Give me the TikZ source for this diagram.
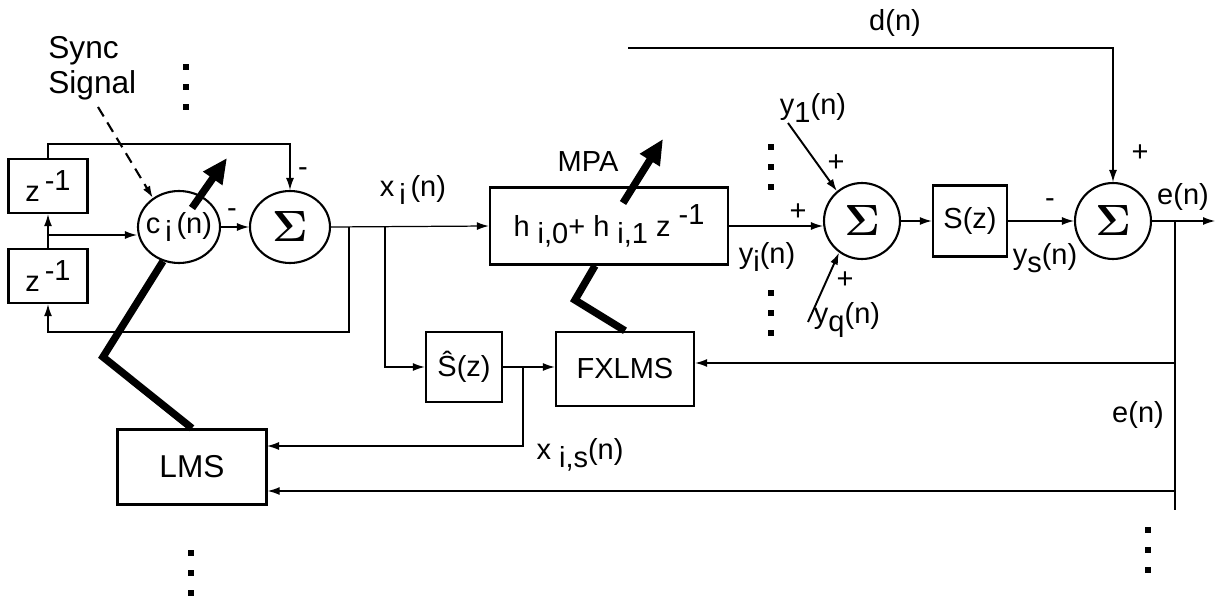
\documentclass[tikz,border=0pt]{standalone}
\usepackage[no-math]{fontspec}
\setmainfont{Liberation Sans}
\usetikzlibrary{arrows.meta, shapes.geometric, calc}

\newcommand{\lowr}[1]{\raisebox{-0.5ex}{#1}}
\newcommand{\highr}[1]{\raisebox{0.75ex}{#1}}
\newcommand{\sumsym}{{\fontsize{31}{31}\selectfont$\mathbf{\Sigma}$}}

\begin{document}
\begin{tikzpicture}[
    x=0.02cm, y=-0.02cm,
    font=\fontsize{16.5}{19}\selectfont,
    block/.style={rectangle, draw=black, line width=1.4pt, inner sep=0pt},
    summer/.style={circle, draw=black, line width=1.2pt, minimum size=1.52cm, inner sep=0pt},
    oval/.style={ellipse, draw=black, line width=1.2pt, inner sep=0pt},
    sig/.style={-{Latex[length=2.4mm, width=1.6mm]}, line width=0.7pt},
    wire/.style={line width=0.7pt},
    adapt/.style={line width=4.2pt},
    adaptarrow/.style={line width=4.2pt, -{Triangle[length=5mm, width=4.4mm]}}
]
\useasboundingbox (0,0) rectangle (1220,601);

% Define the blocks of the adaptive filter
\node[block, minimum width=1.58cm, minimum height=1.08cm] (z1) at (48,186) {z\,\highr{-1}};
\node[block, minimum width=1.58cm, minimum height=1.08cm] (z2) at (48,276) {z\,\highr{-1}};
\node[oval, minimum width=1.64cm, minimum height=1.44cm, label={center:{c\,\lowr{i}\,(n)}}] (ci) at (179,227) {};
\node[oval, minimum width=1.6cm, minimum height=1.44cm] (s1) at (290,227) {\sumsym};
\node[block, minimum width=4.76cm, minimum height=1.54cm] (mpa) at (609,226) {h \lowr{i,0}+ h \lowr{i,1} z \highr{-1}};
\node[block, minimum width=1.52cm, minimum height=1.4cm] (shat) at (464,367) {\^{S}(z)};
\node[block, minimum width=2.76cm, minimum height=1.48cm] (fx) at (625,369) {FXLMS};
\node[block, minimum width=2.98cm, minimum height=1.5cm, font=\fontsize{18}{20}\selectfont] (lms) at (192,467) {LMS};
\node[summer] (s2) at (862,221) {\sumsym};
\node[block, minimum width=1.48cm, minimum height=1.42cm] (sz) at (970,221) {S(z)};
\node[summer] (s3) at (1113,221) {\sumsym};

% Taps and corners of the signal lines
\coordinate (t1) at (349,227);
\coordinate (t2) at (385,227);
\coordinate (t3) at (523,367);
\coordinate (zm) at (48,235);
\coordinate (fbtop) at (290,144);
\coordinate (fbbot) at (48,332);
\coordinate (dstart) at (628,48);
\coordinate (ee) at (1175,221);
\coordinate (eout) at (1215,221);
\coordinate (efx) at (1175,363);
\coordinate (elms) at (1175,491);
\coordinate (eend) at (1175,510);
\coordinate (lmsa) at (267,446);
\coordinate (y1s) at (788,123);
\coordinate (yqs) at (808,322);
\coordinate (syncs) at (98,107);
\coordinate (zzl) at (103,357);
\coordinate (zzm) at (575,300);

% Signal paths
\draw[sig] (z2.north) -- (z1.south);
\draw[sig] (zm) -- (zm -| ci.west);
\draw[sig] (z1.north) |- (fbtop) -- (s1.north);
\draw[sig] (ci.east) -- (s1.west);
\draw[sig] (s1.east) -- (mpa.west);
\draw[sig] (t1) |- (fbbot) -- (z2.south);
\draw[sig] (t2) |- (shat.west);
\draw[sig] (shat.east) -- (shat.east -| fx.west);
\draw[sig] (t3) |- (lmsa);
\draw[sig] (mpa.east) -- (mpa.east -| s2.west);
\draw[sig] (s2.east) -- (sz.west);
\draw[sig] (sz.east) -- (s3.west);
\draw[sig] (s3.east) -- (eout);
\draw[sig] (dstart) -| (s3.north);
\draw[wire] (ee) -- (eend);
\draw[sig] (efx) -- (efx -| fx.east);
\draw[sig] (elms) -- (elms -| lms.east);
\draw[sig, line width=1.1pt] (y1s) -- (s2.130);
\draw[sig, line width=1.1pt] (yqs) -- (s2.234);
\draw[sig, line width=1.2pt, dash pattern=on 2.2mm off 1.4mm] (syncs) -- (ci.132);

% Adaptation paths
\draw[adaptarrow] ($(ci)+(13,-19)$) -- ++(35,-50);
\draw[adapt] (lms.north) -- (zzl) -- (ci.245);
\draw[adaptarrow] ($(mpa)+(14,-23)$) -- ++(40,-64);
\draw[adapt] (fx.north) -- (zzm) -- ($(mpa.south)+(-14,0)$);

% Signs at the summers
\node at (303,172) {-};
\node at (232,213) {-};
\node at (798,212) {+};
\node at (836,163) {+};
\node at (845,280) {+};
\node at (1050,203) {-};
\node at (1140,153) {+};

% Signal names
\node[align=left, anchor=north west, inner sep=0pt, font=\fontsize{18}{20}\selectfont] (sync) at (48,36) {Sync\\Signal};
\node (xin) at (413,190) {x\,\lowr{i}\,(n)};
\node (mpalab) at (588,162) {MPA};
\node (yi) at (767,257) {y\lowr{i}(n)};
\node (y1) at (813,108) {y\lowr{1}(n)};
\node (yq) at (847,320) {y\lowr{q}(n)};
\node (ys) at (1045,258) {y\lowr{s}(n)};
\node (eup) at (1183,197) {e(n)};
\node (elow) at (1138,415) {e(n)};
\node (dn) at (895,23) {d(n)};
\node (xis) at (580,455) {x \lowr{i,s}(n)};

% Continuation dots
\foreach \px/\py in {186/67, 771/147, 771/293, 191/553, 1148/530}
  \foreach \k in {0,1,2}
    \fill (\px-3,\py-3+20*\k) rectangle ++(6,6);

\end{tikzpicture}
\end{document}
